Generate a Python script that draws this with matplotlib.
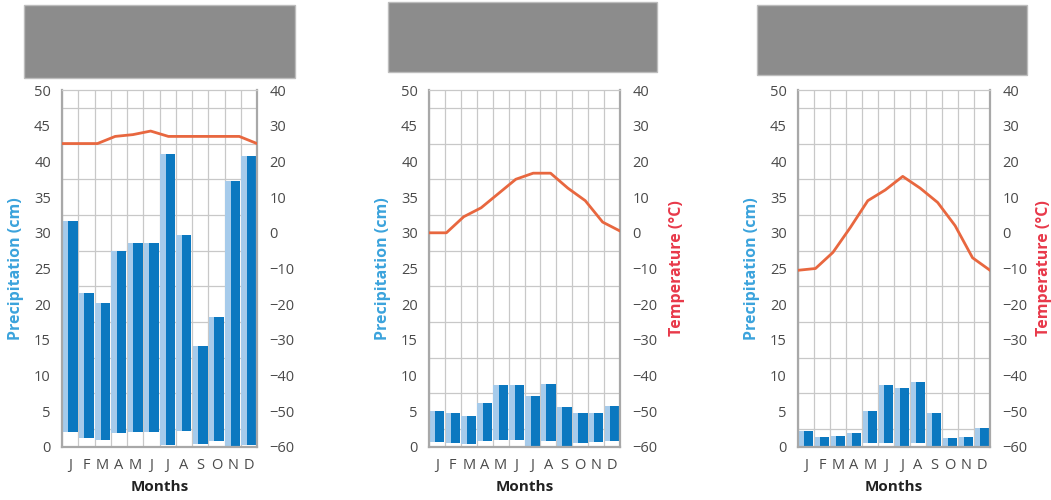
import matplotlib
matplotlib.use("Agg")
import matplotlib.pyplot as plt
from matplotlib.patches import Rectangle
import numpy as np

plt.rcParams['font.family'] = ['Open Sans', 'DejaVu Sans']

months = ['J', 'F', 'M', 'A', 'M', 'J', 'J', 'A', 'S', 'O', 'N', 'D']

# precipitation (cm), top of each bar
precip_1 = [31.6, 21.5, 20.2, 27.4, 28.6, 28.6, 41.0, 29.7, 14.2, 18.2, 37.3, 40.7]
precip_2 = [5.0, 4.7, 4.4, 6.1, 8.7, 8.7, 7.2, 8.8, 5.6, 4.7, 4.7, 5.7]
precip_3 = [2.2, 1.4, 1.5, 1.9, 5.0, 8.7, 8.2, 9.1, 4.7, 1.2, 1.4, 2.6]

# where the blue fill starts (the white gap at the foot of the bars)
base_1 = [2.1, 1.2, 1.0, 1.9, 2.1, 2.1, 0.3, 2.3, 0.4, 0.8, 0.0, 0.3]
base_2 = [0.7, 0.5, 0.4, 0.8, 1.0, 1.0, 0.0, 0.9, 0.2, 0.5, 0.7, 0.8]
base_3 = [0.0, 0.0, 0.0, 0.0, 0.5, 0.6, 0.0, 0.6, 0.0, 0.0, 0.0, 0.0]

# temperature (°C)
temp_1 = [25, 25, 25, 27, 27.5, 28.5, 27, 27, 27, 27, 27, 25]
temp_2 = [0, 0, 4.5, 7, 11, 15, 16.7, 16.7, 12.5, 9, 3, 0.5]
temp_3 = [-10.5, -10, -5.5, 1.5, 9, 12, 15.8, 12.5, 8.5, 2, -7, -10.5]

panels = [
    (precip_1, base_1, temp_1, [62, 257], [24, 295, 5, 78], False),
    (precip_2, base_2, temp_2, [429, 620], [388, 657, 2, 72], True),
    (precip_3, base_3, temp_3, [798, 990], [757, 1027, 5, 75], True),
]

W, H = 1051, 500
fig = plt.figure(figsize=(W / 100, H / 100), dpi=100)

light = '#a6cbeb'
dark = '#0b78c0'
grid_c = '#c8c8c8'
txt_c = '#4a4a4a'

for k, (precip, base, temp, (x0, x1), (bx0, bx1, by0, by1), show_temp_label) in enumerate(panels):
    # gray title box
    fig.add_artist(Rectangle((bx0 / W, 1 - by1 / H), (bx1 - bx0) / W, (by1 - by0) / H,
                             transform=fig.transFigure, facecolor='#8c8c8c',
                             edgecolor='#bdbdbd', linewidth=1))

    ax = fig.add_axes([x0 / W, 1 - 447 / H, (x1 - x0) / W, 357 / H])
    ax.set_xlim(-0.5, 11.5)
    ax.set_ylim(0, 50)
    x = np.arange(12)
    heights = np.array(precip) - np.array(base)
    ax.bar(x - 0.46, heights, width=0.34, bottom=base, align='edge', color=light, zorder=2)
    ax.bar(x - 0.12, heights, width=0.58, bottom=base, align='edge', color=dark, zorder=2)

    ax.set_yticks(np.arange(0, 51, 5))
    ax.set_yticks(np.arange(0, 51, 2.5), minor=True)
    ax.set_xticks(x)
    ax.set_xticklabels(months)
    ax.set_xticks(np.arange(-0.5, 12, 1), minor=True)
    ax.grid(which='minor', color=grid_c, linewidth=0.9, zorder=0)
    ax.set_axisbelow(True)
    ax.tick_params(which='both', length=0)
    ax.tick_params(axis='y', labelsize=10.5, labelcolor=txt_c, pad=8)
    ax.tick_params(axis='x', labelsize=10.5, labelcolor=txt_c, pad=8)
    for s in ['left', 'bottom', 'right']:
        ax.spines[s].set_color('#a8a8a8')
        ax.spines[s].set_linewidth(1.6)
    ax.spines['top'].set_color(grid_c)
    ax.spines['top'].set_linewidth(0.9)
    ax.set_xlabel('Months', fontsize=11, fontweight='bold', color='#222222', labelpad=5)
    ax.set_ylabel('Precipitation (cm)', fontsize=11.5, fontweight='bold', color='#3ba3dc', labelpad=7)

    ax2 = ax.twinx()
    ax2.set_ylim(-60, 40)
    ax2.set_yticks(np.arange(-60, 41, 10))
    ax2.set_yticklabels([str(v).replace('-', '\u2212') for v in range(-60, 41, 10)])
    ax2.tick_params(length=0, labelsize=10.5, labelcolor=txt_c, pad=9)
    for s in ax2.spines.values():
        s.set_visible(False)
    ax2.plot(np.linspace(-0.5, 11.5, 12), temp, color='#e8673f', linewidth=2, zorder=3,
             solid_joinstyle='round')
    if show_temp_label:
        ax2.set_ylabel('Temperature (°C)', fontsize=11.5, fontweight='bold', color='#e8394a',
                       labelpad=6 if k == 2 else 8)

fig.savefig('out.png', dpi=100)
